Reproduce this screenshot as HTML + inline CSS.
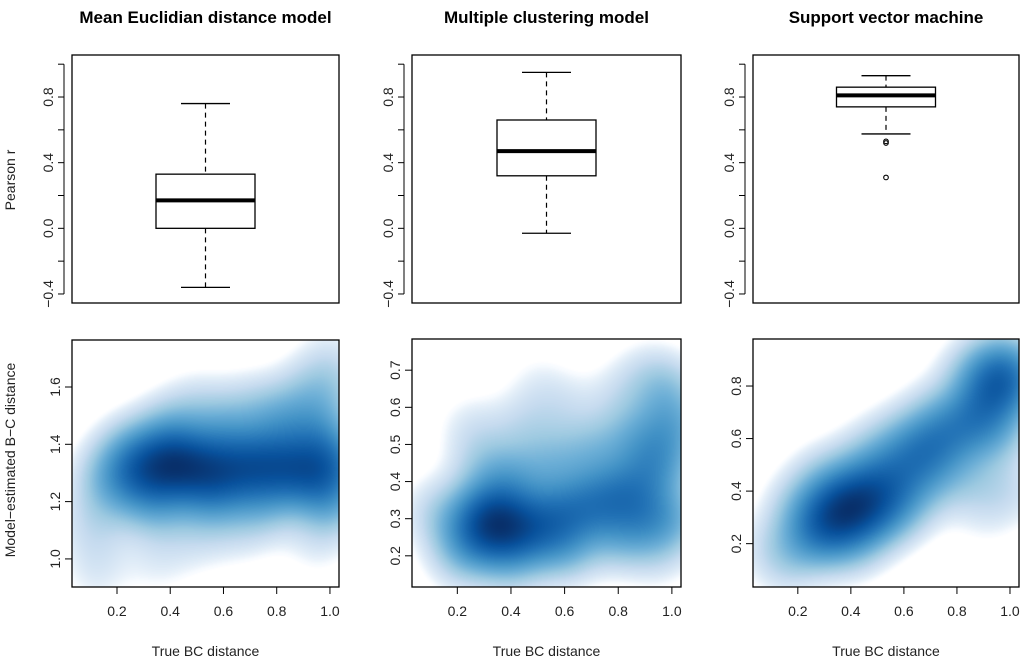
<!DOCTYPE html>
<html><head><meta charset="utf-8"><style>
html,body{margin:0;padding:0;background:#fff;}
body{width:1024px;height:664px;position:relative;overflow:hidden;font-family:"Liberation Sans",Arial,sans-serif;}
canvas{position:absolute;}
svg{position:absolute;left:0;top:0;}
</style></head><body>
<canvas id="c0" width="267" height="247" style="left:72px;top:340px"></canvas>
<canvas id="c1" width="269" height="248" style="left:412px;top:339px"></canvas>
<canvas id="c2" width="266" height="248" style="left:753px;top:339px"></canvas>
<svg id="s" width="1024" height="664"></svg>
<script>
// ---- data ----
const titles=["Mean Euclidian distance model","Multiple clustering model","Support vector machine"];
const boxQ1=[0.0,0.32,0.74];
const boxMedian=[0.17,0.47,0.81];
const boxQ3=[0.33,0.66,0.86];
const whiskLo=[-0.36,-0.03,0.575];
const whiskHi=[0.76,0.95,0.93];
const outliers=[[],[],[0.53,0.52,0.31]];
const topTicks=[-0.4,0.0,0.4,0.8];
const topMinor=[-0.2,0.2,0.6,1.0];
const xTicks=[0.2,0.4,0.6,0.8,1.0];
const yTicksBottom=[[1.0,1.2,1.4,1.6],[0.2,0.3,0.4,0.5,0.6,0.7],[0.2,0.4,0.6,0.8]];
const blobX0=[0.4,0.3,0.5,0.6,0.7,0.8,0.9,1.0,0.95,1.0,0.25,0.2,0.4,0.6,0.8,0.35,0.55,0.75,0.9,1.0,1.0,0.1,0.12,0.12,0.35,0.5,0.67,0.95,0.15,0.5,0.7];
const blobY0=[1.33,1.3,1.32,1.3,1.33,1.33,1.3,1.33,1.45,1.2,1.38,1.25,1.45,1.45,1.48,1.18,1.2,1.2,1.58,1.6,1.72,1.15,1.06,0.94,0.99,1.06,1.09,1.05,1.3,1.55,1.55];
const blobW0=[1.0,0.7,0.8,0.7,0.7,0.7,0.7,0.8,0.5,0.5,0.4,0.3,0.4,0.4,0.4,0.4,0.4,0.4,0.2,0.25,0.12,0.15,0.12,0.12,0.12,0.12,0.12,0.12,0.2,0.15,0.15];
const blobX1=[0.35,0.45,0.3,0.25,0.55,0.65,0.75,0.85,0.95,1.0,0.98,0.9,0.8,0.6,0.4,0.55,0.7,0.85,0.3,0.25,0.45,0.6,0.5,0.8,0.9,0.15,0.1,0.4,0.2,1.0,0.95];
const blobY1=[0.28,0.27,0.32,0.24,0.3,0.33,0.35,0.38,0.45,0.55,0.65,0.3,0.25,0.22,0.4,0.45,0.48,0.52,0.45,0.55,0.55,0.6,0.67,0.63,0.7,0.3,0.34,0.18,0.18,0.3,0.2];
const blobW1=[1.0,0.7,0.6,0.5,0.6,0.55,0.55,0.55,0.6,0.5,0.35,0.45,0.35,0.45,0.45,0.35,0.35,0.35,0.25,0.15,0.2,0.15,0.1,0.15,0.12,0.2,0.1,0.3,0.15,0.4,0.15];
const blobX2=[0.37,0.3,0.45,0.25,0.55,0.65,0.75,0.85,0.95,1.0,0.95,0.5,0.6,0.2,0.3,0.45,0.55,0.7,0.85,0.15,0.1,0.4,0.85,0.9,1.0,0.7,0.95];
const blobY2=[0.33,0.28,0.38,0.22,0.45,0.55,0.6,0.68,0.78,0.85,0.62,0.3,0.35,0.35,0.45,0.52,0.6,0.7,0.85,0.12,0.2,0.2,0.45,0.3,0.4,0.45,0.9];
const blobW2=[1.0,0.6,0.8,0.45,0.6,0.65,0.6,0.65,0.85,0.6,0.4,0.45,0.35,0.25,0.3,0.25,0.2,0.2,0.25,0.2,0.15,0.35,0.25,0.1,0.2,0.3,0.3];
const blobXs=[blobX0,blobX1,blobX2], blobYs=[blobY0,blobY1,blobY2], blobWs=[blobW0,blobW1,blobW2];

// ---- geometry ----
const colL=[72,412,753], colR=[339,681,1019];
const topT=55, topB=303, topMin=-0.455, topMax=1.056;
const botT=[340,339,339], botB=[587,587,587];
const botMin=[0.902,0.116,0.035], botMax=[1.764,0.784,0.979];
const xMin=0.031, xMax=1.034;
const S=document.getElementById('s'), NS='http://www.w3.org/2000/svg';
function el(t,a,p){const e=document.createElementNS(NS,t);for(const k in a)e.setAttribute(k,a[k]);(p||S).appendChild(e);return e;}
function ty(v){return topB-(v-topMin)/(topMax-topMin)*(topB-topT);}
function bx(i,v){return colL[i]+(v-xMin)/(xMax-xMin)*(colR[i]-colL[i]);}
function by(i,v){return botB[i]-(v-botMin[i])/(botMax[i]-botMin[i])*(botB[i]-botT[i]);}
const blues=[[255,255,255],[247,251,255],[222,235,247],[198,219,239],[158,202,225],[107,174,214],[66,146,198],[33,113,181],[8,81,156],[8,48,107]];
function cmap(t){t=Math.max(0,Math.min(1,t))*(blues.length-1);const i=Math.min(blues.length-2,Math.floor(t)),f=t-i;const a=blues[i],b=blues[i+1];return [a[0]+(b[0]-a[0])*f,a[1]+(b[1]-a[1])*f,a[2]+(b[2]-a[2])*f];}

for(let i=0;i<3;i++){
  const g=el('g',{});
  
  
  const cx=(colL[i]+colR[i])/2;
  const t=el('text',{x:cx,y:23,'text-anchor':'middle','font-size':'17','font-weight':'bold',fill:'#000'},g);
  t.textContent=titles[i];
  
  
  const fr=el('rect',{x:colL[i],y:topT,width:colR[i]-colL[i],height:topB-topT,fill:'none',stroke:'#000','stroke-width':1.3},g);
  
  
  const ax=colL[i]-8;
  el('line',{x1:ax,x2:ax,y1:ty(-0.4),y2:ty(1.0),stroke:'#000','stroke-width':1},g);
  [...topTicks,...topMinor].forEach(v=>el('line',{x1:ax,x2:ax-6,y1:ty(v),y2:ty(v),stroke:'#000','stroke-width':1},g));
  topTicks.forEach(v=>{const tx=el('text',{x:0,y:0,transform:`translate(${ax-11},${ty(v)}) rotate(-90)`,'text-anchor':'middle','font-size':'14',fill:'#222'},g);tx.textContent=v.toFixed(1).replace('-','\u2212');
    
    });
  const bw=99, cw=49;
  el('line',{x1:cx,x2:cx,y1:ty(whiskHi[i]),y2:ty(boxQ3[i]),stroke:'#000','stroke-dasharray':'5,4','stroke-width':1.2},g);
  el('line',{x1:cx,x2:cx,y1:ty(boxQ1[i]),y2:ty(whiskLo[i]),stroke:'#000','stroke-dasharray':'5,4','stroke-width':1.2},g);
  const c1=el('line',{x1:cx-cw/2,x2:cx+cw/2,y1:ty(whiskHi[i]),y2:ty(whiskHi[i]),stroke:'#000','stroke-width':1.3},g);
  
  
  const c2=el('line',{x1:cx-cw/2,x2:cx+cw/2,y1:ty(whiskLo[i]),y2:ty(whiskLo[i]),stroke:'#000','stroke-width':1.3},g);
  
  
  const b=el('rect',{x:cx-bw/2,y:ty(boxQ3[i]),width:bw,height:ty(boxQ1[i])-ty(boxQ3[i]),fill:'#fff',stroke:'#000','stroke-width':1.3},g);
  
  
  const m=el('line',{x1:cx-bw/2,x2:cx+bw/2,y1:ty(boxMedian[i]),y2:ty(boxMedian[i]),stroke:'#000','stroke-width':4},g);
  
  
  outliers[i].forEach(v=>{const o=el('circle',{cx:cx,cy:ty(v),r:2.3,fill:'none',stroke:'#000','stroke-width':1.1},g);
    
    });
  const cv=document.getElementById('c'+i), ctx=cv.getContext('2d');
  const W=cv.width,H=cv.height,img=ctx.createImageData(W,H);
  const X=blobXs[i],Y=blobYs[i],Wt=blobWs[i];
  const px=X.map(v=>bx(i,v)-colL[i]), py=Y.map(v=>by(i,v)-botT[i]);
  const sg=24, den=new Float32Array(W*H);let mx=0;
  for(let yy=0;yy<H;yy++)for(let xx=0;xx<W;xx++){let d=0;for(let k=0;k<px.length;k++){const dx=xx-px[k],dy=yy-py[k];d+=Wt[k]*Math.exp(-(dx*dx+dy*dy)/(2*sg*sg));}den[yy*W+xx]=d;if(d>mx)mx=d;}
  for(let p=0;p<W*H;p++){let v=den[p]/mx;v=Math.max(0,(v-0.04)/0.96);const c=cmap(Math.pow(v,0.45));img.data[p*4]=c[0];img.data[p*4+1]=c[1];img.data[p*4+2]=c[2];img.data[p*4+3]=255;}
  ctx.putImageData(img,0,0);
  const f2=el('rect',{x:colL[i],y:botT[i],width:colR[i]-colL[i],height:botB[i]-botT[i],fill:'none',stroke:'#000','stroke-width':1.3},g);
  
  
  const xa=botB[i];
  el('line',{x1:bx(i,0.2),x2:bx(i,1.0),y1:xa,y2:xa,stroke:'#000','stroke-width':1},g);
  xTicks.forEach(v=>{el('line',{x1:bx(i,v),x2:bx(i,v),y1:xa,y2:xa+7,stroke:'#000','stroke-width':1},g);
    const tx=el('text',{x:bx(i,v),y:xa+29,'text-anchor':'middle','font-size':'14',fill:'#222'},g);tx.textContent=v.toFixed(1);
    
    });
  const xl=el('text',{x:cx,y:656,'text-anchor':'middle','font-size':'14',fill:'#222'},g);xl.textContent='True BC distance';
  
  
  const ax2=colL[i];
  yTicksBottom[i].forEach(v=>{el('line',{x1:ax2,x2:ax2-7,y1:by(i,v),y2:by(i,v),stroke:'#000','stroke-width':1},g);
    const tx=el('text',{x:0,y:0,transform:`translate(${ax2-12},${by(i,v)}) rotate(-90)`,'text-anchor':'middle','font-size':'14',fill:'#222'},g);tx.textContent=v.toFixed(1);
    
    });
}
const yl1=el('text',{x:0,y:0,transform:'translate(15,180) rotate(-90)','text-anchor':'middle','font-size':'14',fill:'#222'});yl1.textContent='Pearson r';


const yl2=el('text',{x:0,y:0,transform:'translate(15,460) rotate(-90)','text-anchor':'middle','font-size':'14',fill:'#222'});yl2.textContent='Model\u2212estimated B\u2212C distance';


</script>
</body></html>
